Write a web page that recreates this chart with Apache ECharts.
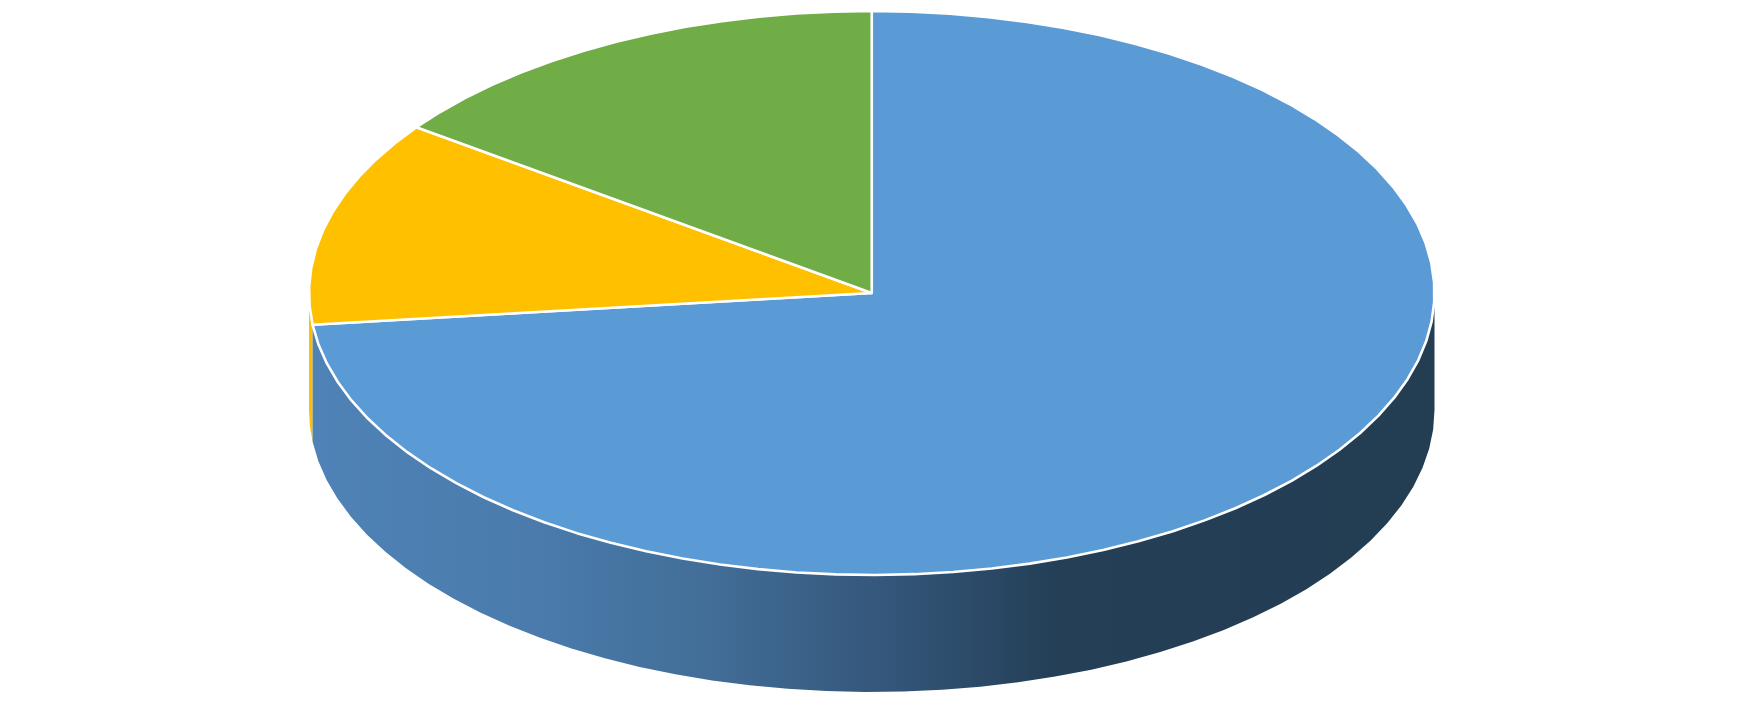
<!DOCTYPE html>
<html>
<head>
<meta charset="utf-8">
<style>html,body{margin:0;padding:0;background:#fff}#c{width:1743px;height:704px}</style>
<script src="https://cdn.jsdelivr.net/npm/echarts@6/dist/echarts.min.js"></script>
</head>
<body>
<div id="c"></div>
<script>
const categories = ['Slice 1', 'Slice 2', 'Slice 3'];
const values = [73.2, 11.8, 15.0];
const topColors = ['#5B9BD5', '#FFC000', '#70AD47'];
const depth = 0.415;
const wallStops = [
  {offset: 0, color: '#4F82B6'},
  {offset: 0.2, color: '#4A7BAC'},
  {offset: 0.35, color: '#426E98'},
  {offset: 0.5, color: '#35587C'},
  {offset: 0.58, color: '#2D4C6B'},
  {offset: 0.66, color: '#243F56'},
  {offset: 1, color: '#233D53'}
];

const total = values.reduce((a, b) => a + b, 0);
let running = 0;
const rows = values.map((v, i) => {
  const start = running / total * 360;
  running += v;
  return [start, running / total * 360, i];
});

function arc(api, a0, a1, drop) {
  const pts = [];
  const n = Math.max(2, Math.ceil(Math.abs(a1 - a0) / 4));
  for (let k = 0; k <= n; k++) {
    const t = (a0 + (a1 - a0) * k / n) * Math.PI / 180;
    pts.push(api.coord([Math.sin(t), Math.cos(t) - drop]));
  }
  return pts;
}

function renderWall(params, api) {
  const a0 = Math.max(api.value(0), 90);
  const a1 = Math.min(api.value(1), 270);
  if (a1 <= a0) return {type: 'group', children: []};
  const i = api.value(2);
  const pts = arc(api, a0, a1, 0).concat(arc(api, a1, a0, depth));
  return {
    type: 'polygon',
    shape: {points: pts},
    style: {
      fill: i === 0 ? {type: 'linear', x: 0, y: 0, x2: 1, y2: 0, colorStops: wallStops} : topColors[i],
      stroke: null
    },
    silent: true
  };
}

function renderTop(params, api) {
  const a0 = api.value(0), a1 = api.value(1), i = api.value(2);
  const pts = [api.coord([0, 0])].concat(arc(api, a0, a1, 0));
  return {
    type: 'polygon',
    shape: {points: pts},
    style: {fill: topColors[i], stroke: '#FFFFFF', lineWidth: 2.6, lineJoin: 'round'},
    silent: true
  };
}

const chart = echarts.init(document.getElementById('c'), null, {renderer: 'canvas'});
chart.setOption({
  animation: false,
  backgroundColor: '#FFFFFF',
  grid: {left: 309, top: 11, width: 1125.5, height: 681},
  xAxis: {type: 'value', min: -1, max: 1, show: false},
  yAxis: {type: 'value', min: -1 - depth, max: 1, show: false},
  series: [
    {type: 'custom', coordinateSystem: 'cartesian2d', clip: false, data: [rows[1], rows[0]], renderItem: renderWall, encode: {x: 0, y: 1}},
    {type: 'custom', coordinateSystem: 'cartesian2d', clip: false, data: rows, renderItem: renderTop, encode: {x: 0, y: 1}}
  ]
});
</script>
</body>
</html>
